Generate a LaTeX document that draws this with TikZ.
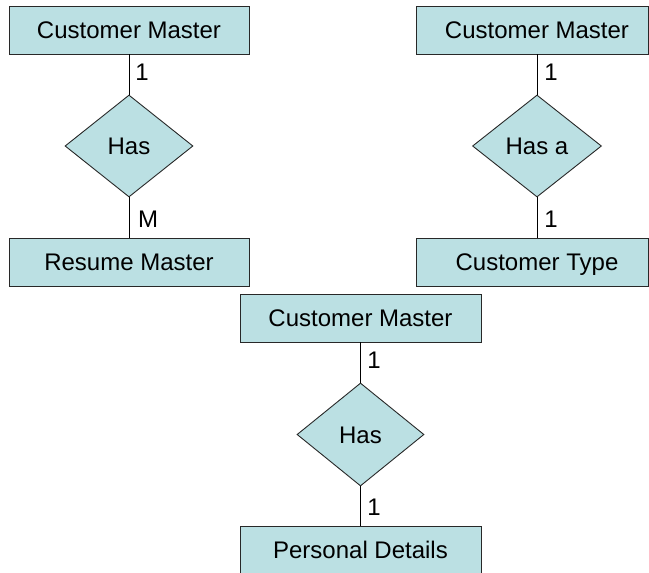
\documentclass[tikz,border=0pt]{standalone}
\usepackage{fontspec}
\setmainfont{Liberation Sans}
\usetikzlibrary{shapes.geometric}
\definecolor{erfill}{RGB}{187,224,227}
\definecolor{erline}{RGB}{40,40,40}
\tikzset{
  entity/.style={draw=erline, fill=erfill, line width=0.9pt, inner sep=0pt, rectangle,
    font=\fontsize{24}{28}\selectfont, text height=17pt, text depth=0pt},
  rel/.style={draw=erline, fill=erfill, line width=0.9pt, inner sep=0pt, diamond, aspect=1.25,
    font=\fontsize{24}{28}\selectfont, text height=17pt, text depth=0pt},
  conn/.style={draw=black, line width=0.9pt},
  card/.style={font=\fontsize{24}{28}\selectfont, inner sep=0pt, text height=17pt, text depth=0pt}
}
\begin{document}
\begin{tikzpicture}[x=1pt,y=-1pt]
\useasboundingbox (0,0) rectangle (649,573);
% left group
\node[entity, minimum width=240pt, minimum height=48pt] (cm1) at (129,30) {Customer Master};
\node[rel, minimum width=128pt, minimum height=102pt] (has1) at (129,146) {Has};
\node[entity, minimum width=240pt, minimum height=48pt] (rm) at (129,262) {Resume Master};
\draw[conn] (cm1.south) -- (has1.north);
\draw[conn] (has1.south) -- (rm.north);
\node[card] (c1) at (142,72) {1};
\node[card] (c2) at (148,219) {M};
% right group
\node[entity, minimum width=232pt, minimum height=48pt] (cm2) at (532,30) {\hspace*{10pt}Customer Master};
\coordinate (cm2b) at (537,54);
\node[rel, minimum width=129pt, minimum height=102pt] (has2) at (537,146) {Has a};
\node[entity, minimum width=232pt, minimum height=48pt] (ct) at (532,262) {\hspace*{10pt}Customer Type};
\coordinate (ctt) at (537,238);
\draw[conn] (cm2b) -- (has2.north);
\draw[conn] (has2.south) -- (ctt);
\node[card] (c3) at (551,72) {1};
\node[card] (c4) at (551,219) {1};
% bottom group
\node[entity, minimum width=241pt, minimum height=48pt] (cm3) at (360.5,318) {Customer Master};
\node[rel, minimum width=127pt, minimum height=103pt] (has3) at (360.5,434.5) {Has};
\node[entity, minimum width=241pt, minimum height=48pt] (pd) at (360.5,550) {Personal Details};
\draw[conn] (cm3.south) -- (has3.north);
\draw[conn] (has3.south) -- (pd.north);
\node[card] (c5) at (374,360) {1};
\node[card] (c6) at (374,507) {1};
\end{tikzpicture}
\end{document}
